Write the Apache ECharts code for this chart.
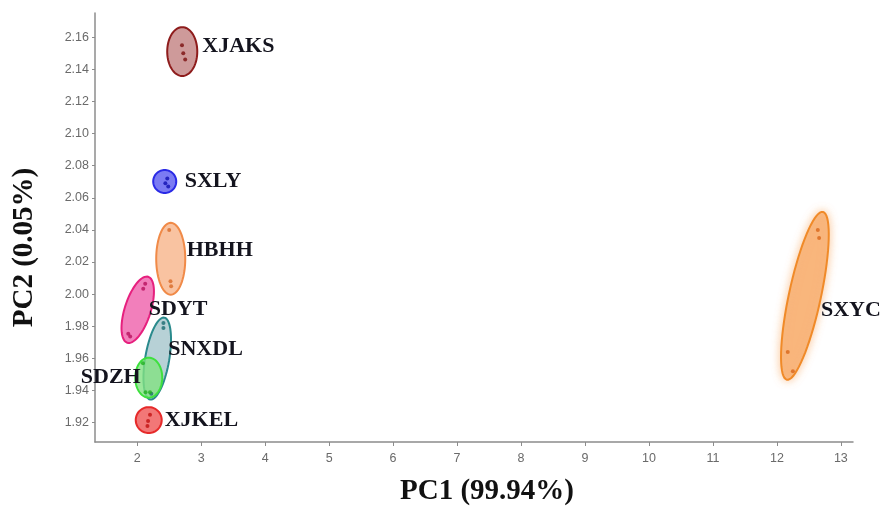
<!DOCTYPE html>
<html>
<head>
<meta charset="utf-8">
<script src="https://cdn.jsdelivr.net/npm/echarts@6/dist/echarts.min.js"></script>
<style>
  html, body { margin: 0; padding: 0; background: #fff; }
  #chart { width: 883px; height: 507px; }
</style>
</head>
<body>
<div id="chart"></div>
<script>
// Sample groups in the PCA score plot
const groups = ['XJAKS', 'SXLY', 'HBHH', 'SDYT', 'SNXDL', 'SDZH', 'XJKEL', 'SXYC'];

// Replicate scores per group (PC1, PC2)
const pc1Scores = [
  [2.70, 2.72, 2.75],
  [2.47, 2.485, 2.44],
  [2.50, 2.52, 2.53],
  [2.125, 2.094, 1.89, 1.86],
  [2.41, 2.41, 2.22],
  [2.09, 2.20, 2.13],
  [2.20, 2.17, 2.16],
  [12.64, 12.66, 12.17, 12.25]
];
const pc2Scores = [
  [2.155, 2.150, 2.146],
  [2.072, 2.067, 2.069],
  [2.040, 2.008, 2.005],
  [2.0065, 2.0034, 1.9736, 1.9754],
  [1.982, 1.979, 1.938],
  [1.957, 1.939, 1.939],
  [1.925, 1.921, 1.918],
  [2.040, 2.035, 1.964, 1.952]
];

// Confidence ellipses: ends of the major axis and the half minor axis (PC1 units)
const ellipseTopPc1    = [2.704, 2.430, 2.524, 2.172, 2.423, 2.180, 2.180, 12.720];
const ellipseTopPc2    = [2.1662, 2.0773, 2.0444, 2.0108, 1.9854, 1.9605, 1.9297, 2.0512];
const ellipseBottomPc1 = [2.704, 2.430, 2.524, 1.844, 2.203, 2.180, 2.180, 12.156];
const ellipseBottomPc2 = [2.1358, 2.0630, 1.9997, 1.9698, 1.9344, 1.9356, 1.9136, 1.9468];
const ellipseHalfWidth = [0.235, 0.18, 0.227, 0.203, 0.188, 0.211, 0.203, 0.25];

// Axis tick labels
const xTicks = [2, 3, 4, 5, 6, 7, 8, 9, 10, 11, 12, 13];
const yTicks = [1.92, 1.94, 1.96, 1.98, 2.00, 2.02, 2.04, 2.06, 2.08, 2.10, 2.12, 2.14, 2.16];

// Look of each group: outline, fill, point colour, label offset from ellipse centre
const groupStyles = [
  { stroke: '#8e1c1c', fill: 'rgba(190,120,120,0.75)', dot: '#7a0e0e', dx: 20, dy: -5, align: 'left' },
  { stroke: '#2a2ae6', fill: 'rgba(90,90,240,0.8)', dot: '#1010b0', dx: 20, dy: 0, align: 'left' },
  { stroke: '#f08a48', fill: 'rgba(248,185,145,0.85)', dot: '#d86a28', dx: 16, dy: -8, align: 'left' },
  { stroke: '#e6207e', fill: 'rgba(240,105,175,0.85)', dot: '#b8105e', dx: 11, dy: 0, align: 'left' },
  { stroke: '#2a8a8c', fill: 'rgba(165,198,204,0.8)', dot: '#1a6a70', dx: 11, dy: -9, align: 'left' },
  { stroke: '#3ee03e', fill: 'rgba(130,225,130,0.8)', dot: '#20b020', dx: -8, dy: 0, align: 'right' },
  { stroke: '#e62a2a', fill: 'rgba(240,95,95,0.85)', dot: '#c01010', dx: 16, dy: 0, align: 'left' },
  { stroke: '#f08a28', fill: 'rgba(248,178,118,0.85)', dot: '#d8661a', dx: 16, dy: 15, align: 'left', glow: 'rgba(248,170,100,0.7)' }
];

const ellipseData = groups.map((g, i) => [
  ellipseTopPc1[i], ellipseTopPc2[i], ellipseBottomPc1[i], ellipseBottomPc2[i], ellipseHalfWidth[i], i
]);

function ellipseShape(api) {
  const p1 = api.coord([api.value(0), api.value(1)]);
  const p2 = api.coord([api.value(2), api.value(3)]);
  const cx = (p1[0] + p2[0]) / 2, cy = (p1[1] + p2[1]) / 2;
  const a = Math.hypot(p1[0] - p2[0], p1[1] - p2[1]) / 2;
  const b = api.size([api.value(4), 0])[0];
  const ang = Math.atan2(p1[1] - p2[1], p1[0] - p2[0]);
  const pts = [];
  for (let k = 0; k < 72; k++) {
    const t = (k / 72) * Math.PI * 2;
    const lx = a * Math.cos(t), ly = b * Math.sin(t);
    pts.push([cx + lx * Math.cos(ang) - ly * Math.sin(ang), cy + lx * Math.sin(ang) + ly * Math.cos(ang)]);
  }
  return { cx, cy, pts };
}

const series = [
  {
    type: 'custom',
    z: 2,
    data: ellipseData,
    renderItem: function (params, api) {
      const i = api.value(5);
      const s = groupStyles[i];
      const e = ellipseShape(api);
      return {
        type: 'polygon',
        shape: { points: e.pts },
        style: {
          fill: s.fill,
          stroke: s.stroke,
          lineWidth: 2,
          shadowBlur: s.glow ? 8 : 0,
          shadowColor: s.glow || 'transparent'
        }
      };
    }
  }
];

groups.forEach((g, i) => {
  series.push({
    type: 'scatter',
    name: g,
    z: 3,
    symbol: 'circle',
    symbolSize: 4,
    itemStyle: { color: groupStyles[i].dot },
    data: pc1Scores[i].map((x, k) => [x, pc2Scores[i][k]])
  });
});

series.push({
  type: 'custom',
  z: 4,
  data: ellipseData,
  renderItem: function (params, api) {
    const i = api.value(5);
    const s = groupStyles[i];
    const e = ellipseShape(api);
    return {
      type: 'text',
      x: e.cx + s.dx,
      y: e.cy + s.dy,
      style: {
        text: groups[i],
        fill: '#14141e',
        font: 'bold 22px "Liberation Serif", "Times New Roman", serif',
        align: s.align,
        verticalAlign: 'middle'
      }
    };
  }
});

const chart = echarts.init(document.getElementById('chart'), null, { renderer: 'canvas' });
chart.setOption({
  backgroundColor: '#ffffff',
  animation: false,
  grid: { left: 95, right: 30, top: 13, bottom: 65, containLabel: false, outerBoundsMode: 'none' },
  xAxis: {
    type: 'value',
    min: 1.34,
    max: 13.19,
    name: 'PC1 (99.94%)',
    nameLocation: 'middle',
    nameGap: 35,
    nameTextStyle: {
      fontFamily: '"Liberation Serif", "Times New Roman", serif',
      fontWeight: 'bold',
      fontSize: 29,
      color: '#111',
      padding: [0, 0, 0, 26]
    },
    axisLine: { show: true, lineStyle: { color: '#8c8c8c', width: 1.5 } },
    axisTick: { show: true, length: 4, customValues: xTicks, lineStyle: { color: '#8c8c8c' } },
    axisLabel: {
      customValues: xTicks,
      margin: 10,
      color: '#6a6a6a',
      fontSize: 12.5,
      fontFamily: '"Liberation Sans Narrow", "Liberation Sans", sans-serif'
    },
    splitLine: { show: false }
  },
  yAxis: {
    type: 'value',
    min: 1.908,
    max: 2.175,
    name: 'PC2 (0.05%)',
    nameLocation: 'middle',
    nameGap: 56,
    nameTextStyle: {
      fontFamily: '"Liberation Serif", "Times New Roman", serif',
      fontWeight: 'bold',
      fontSize: 29,
      color: '#111',
      padding: [0, 40, 0, 0]
    },
    axisLine: { show: true, lineStyle: { color: '#8c8c8c', width: 1.5 } },
    axisTick: { show: true, length: 3, customValues: yTicks, lineStyle: { color: '#8c8c8c' } },
    axisLabel: {
      customValues: yTicks,
      margin: 6,
      color: '#6a6a6a',
      fontSize: 12.5,
      fontFamily: '"Liberation Sans Narrow", "Liberation Sans", sans-serif',
      formatter: v => v.toFixed(2)
    },
    splitLine: { show: false }
  },
  series: series
});
</script>
</body>
</html>
